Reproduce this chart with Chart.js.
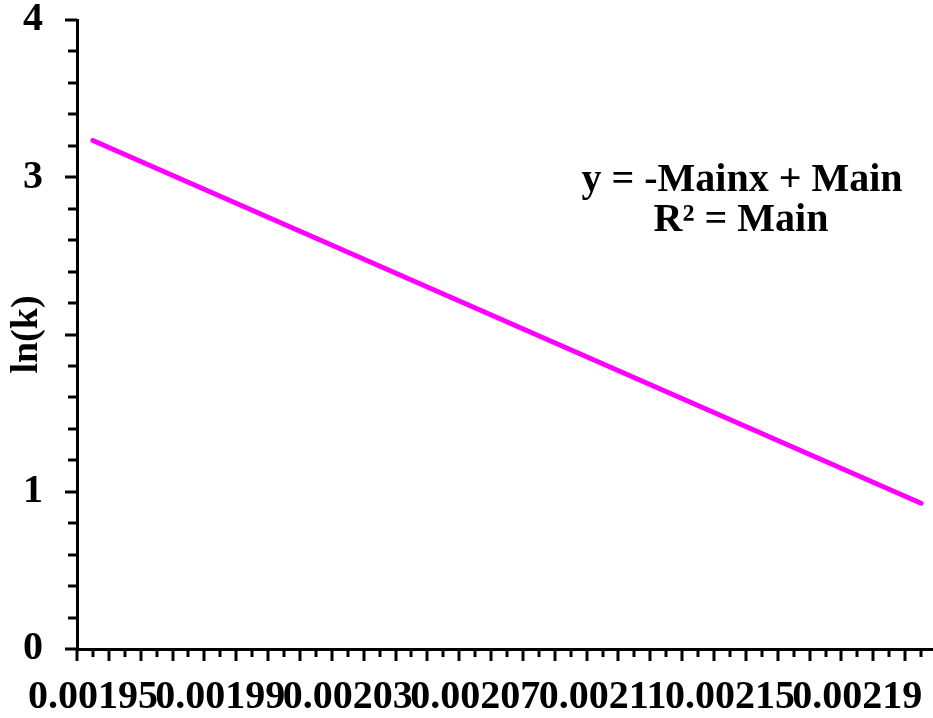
<!DOCTYPE html>
<html>
<head>
<meta charset="utf-8">
<script src="https://cdn.jsdelivr.net/npm/chart.js@4.4.1/dist/chart.umd.min.js"></script>
<style>
    html, body { margin: 0; padding: 0; background: #fff; overflow: hidden; }
    #wrap { width: 940px; height: 718px; }
</style>
</head>
<body>
<div id="wrap"><canvas id="lnkChart"></canvas></div>
<script>
// Data
const invT = [0.001945, 0.002205];
const lnK = [3.234, 0.927];

// Axis labels
const xTickValues = [0.001945, 0.001985, 0.002025, 0.002065, 0.002105, 0.002145, 0.002185];
const xTickLabels = ['0.00195', '0.00199', '0.00203', '0.00207', '0.00211', '0.00215', '0.00219'];
const yTickLabels = ['0', '1', '', '3', '4'];
const fitText = ['y = -Mainx + Main', 'R\u00B2 = Main'];

const serif = "'Liberation Serif', 'Times New Roman', serif";

// Minor / major tick marks drawn outside the plot area
const tickMarks = {
    id: 'tickMarks',
    afterDraw(chart) {
        const ctx = chart.ctx;
        const xs = chart.scales.x;
        const ys = chart.scales.y;
        const area = chart.chartArea;
        ctx.save();
        ctx.strokeStyle = '#000';
        ctx.lineWidth = 3;
        ctx.lineCap = 'butt';

        // y ticks every 0.2
        for (let i = 0; i <= 20; i++) {
            const py = Math.round(ys.getPixelForValue(i / 5));
            const len = i % 5 === 0 ? 12 : 9;
            ctx.beginPath();
            ctx.moveTo(area.left - len, py);
            ctx.lineTo(area.left, py);
            ctx.stroke();
        }

        // x ticks every 0.000005
        for (let i = 0; ; i++) {
            const v = xs.min + i * 0.000005;
            if (v > xs.max + 1e-9) break;
            const px = Math.round(xs.getPixelForValue(v));
            const len = i % 2 === 0 ? 12 : 8;
            ctx.beginPath();
            ctx.moveTo(px, area.bottom);
            ctx.lineTo(px, area.bottom + len);
            ctx.stroke();
        }

        // regression text
        ctx.fillStyle = '#000';
        ctx.font = 'bold 40px ' + serif;
        ctx.textAlign = 'center';
        ctx.textBaseline = 'alphabetic';
        ctx.fillText(fitText[0], 742, 191);
        ctx.fillText(fitText[1], 741, 231);
        ctx.restore();
    }
};

const ctx = document.getElementById('lnkChart').getContext('2d');
const lnkChart = new Chart(ctx, {
    type: 'scatter',
    data: {
        datasets: [{
            data: invT.map((x, i) => ({ x: x, y: lnK[i] })),
            showLine: true,
            borderColor: '#FF00FF',
            borderWidth: 5,
            borderCapStyle: 'round',
            pointRadius: 0,
            fill: false
        }]
    },
    options: {
        responsive: true,
        maintainAspectRatio: false,
        animation: false,
        layout: { padding: { top: 20, right: 3, left: 0, bottom: 0 } },
        plugins: {
            legend: { display: false },
            tooltip: { enabled: false }
        },
        scales: {
            x: {
                type: 'linear',
                min: 0.00194,
                max: 0.00221,
                border: { display: true, color: '#000', width: 3 },
                grid: { display: true, drawOnChartArea: false, drawTicks: false },
                afterBuildTicks: function(scale) {
                    scale.ticks = xTickValues.map(v => ({ value: v }));
                },
                afterFit: function(scale) {
                    scale.height = 69;
                    scale.paddingLeft = 0;
                    scale.paddingRight = 0;
                },
                ticks: {
                    autoSkip: false,
                    maxRotation: 0,
                    minRotation: 0,
                    padding: 25,
                    color: '#000',
                    font: { family: serif, size: 40, weight: 'bold' },
                    callback: function(value, index) {
                        return xTickLabels[index];
                    }
                }
            },
            y: {
                min: 0,
                max: 4,
                border: { display: true, color: '#000', width: 3 },
                grid: { display: true, drawOnChartArea: false, drawTicks: false },
                afterFit: function(scale) {
                    scale.width = 77;
                    scale.paddingTop = 0;
                    scale.paddingBottom = 0;
                },
                ticks: {
                    stepSize: 1,
                    padding: 34,
                    color: '#000',
                    font: { family: serif, size: 40, weight: 'bold' },
                    callback: function(value, index) {
                        return yTickLabels[index];
                    }
                },
                title: {
                    display: true,
                    text: 'ln(k)',
                    color: '#000',
                    padding: { top: 4, bottom: 0 },
                    font: { family: serif, size: 38, weight: 'bold' }
                }
            }
        }
    },
    plugins: [tickMarks]
});
</script>
</body>
</html>
